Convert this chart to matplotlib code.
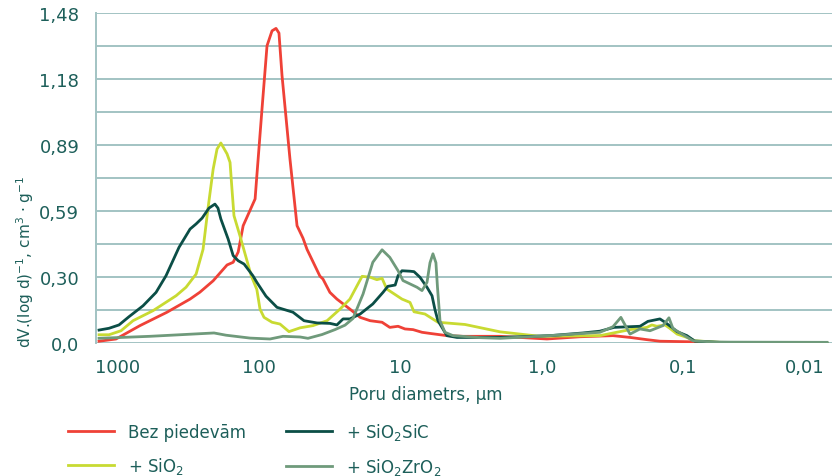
import numpy as np
import matplotlib
matplotlib.use("Agg")
import matplotlib.pyplot as plt

# pore diameter (um) and dV/(log d) for each sample
d_bez = [1363, 1033, 699, 450, 309, 263, 212, 169, 153, 141, 130, 107, 104, 95.6, 88.1,
         81.2, 76.1, 72.5, 69.0, 60.6, 54.0, 49.0, 45.9, 43.7, 37.2, 35.4, 31.6, 28.2,
         22.8, 19.3, 16.4, 13.5, 11.9, 10.4, 9.29, 8.15, 7.04, 6.18, 4.69, 3.61, 1.97,
         0.918, 0.536, 0.313, 0.237, 0.180, 0.1455, 0.0796]
v_bez = [0.008, 0.018, 0.078, 0.138, 0.197, 0.228, 0.279, 0.35, 0.362, 0.408, 0.526, 0.646,
         0.75, 1.05, 1.333, 1.40, 1.411, 1.39, 1.2, 0.825, 0.526, 0.47, 0.42, 0.392, 0.30,
         0.287, 0.227, 0.197, 0.152, 0.115, 0.10, 0.093, 0.07, 0.075, 0.063, 0.06, 0.048,
         0.043, 0.033, 0.03, 0.03, 0.018, 0.028, 0.033, 0.025, 0.015, 0.008, 0.005]

d_sio2 = [1363, 1158, 952, 783, 565, 388, 330, 280, 250, 231, 212, 199, 187, 169, 161, 156,
          151, 137, 114, 104, 98.8, 92.5, 81.2, 71.3, 61.6, 51.4, 41.6, 33.1, 26.8, 22.8,
          20.3, 18.7, 16.4, 14.7, 13.5, 12.5, 10.6, 9.76, 8.56, 8.02, 6.71, 5.43, 3.49,
          1.97, 1.03, 0.387, 0.237, 0.180, 0.166, 0.153, 0.134, 0.124, 0.110, 0.0937,
          0.0822, 0.0547, 0.00956]
v_sio2 = [0.037, 0.037, 0.055, 0.10, 0.145, 0.212, 0.25, 0.309, 0.42, 0.60, 0.78, 0.87,
          0.897, 0.848, 0.81, 0.69, 0.571, 0.481, 0.302, 0.24, 0.152, 0.115, 0.093, 0.085,
          0.051, 0.068, 0.078, 0.10, 0.152, 0.197, 0.257, 0.299, 0.295, 0.284, 0.29, 0.242,
          0.212, 0.197, 0.182, 0.14, 0.13, 0.093, 0.083, 0.05, 0.03, 0.033, 0.06, 0.07,
          0.081, 0.075, 0.081, 0.066, 0.04, 0.025, 0.01, 0.003, 0.0]

d_sic = [1363, 1158, 984, 836, 665, 538, 457, 370, 309, 280, 254, 227, 206, 196, 187, 166,
         153, 141, 128, 111, 104, 89.6, 74.9, 57.7, 48.2, 39.0, 31.6, 28.2, 25.5, 22.8,
         19.3, 15.7, 13.3, 12.3, 10.9, 10.4, 9.76, 8.56, 8.02, 7.28, 6.49, 5.98, 5.70,
         5.43, 4.69, 3.98, 1.97, 0.874, 0.511, 0.387, 0.308, 0.2015, 0.177, 0.1455,
         0.134, 0.1197, 0.110, 0.0937, 0.0822, 0.0547, 0.00956]
v_sic = [0.058, 0.066, 0.081, 0.118, 0.167, 0.227, 0.302, 0.429, 0.511, 0.534, 0.56, 0.605,
         0.623, 0.605, 0.556, 0.466, 0.392, 0.369, 0.354, 0.302, 0.272, 0.21, 0.16, 0.138,
         0.10, 0.09, 0.088, 0.081, 0.108, 0.108, 0.13, 0.175, 0.227, 0.254, 0.26, 0.302,
         0.324, 0.322, 0.32, 0.295, 0.25, 0.212, 0.15, 0.10, 0.033, 0.025, 0.025, 0.033,
         0.045, 0.053, 0.07, 0.075, 0.097, 0.108, 0.093, 0.07, 0.051, 0.033, 0.008,
         0.003, 0.0]

d_zro2 = [1363, 594, 209, 172, 116, 83.9, 67.9, 51.4, 45.2, 35.9, 29.1, 24.7, 21.7, 18.4,
          15.7, 13.5, 11.9, 10.4, 9.60, 8.56, 7.64, 7.04, 6.49, 6.18, 5.89, 5.61, 5.47,
          5.25, 4.84, 4.25, 2.74, 1.97, 0.874, 0.387, 0.313, 0.275, 0.237, 0.2015, 0.171,
          0.1385, 0.1256, 0.1177, 0.1016, 0.0849, 0.0594, 0.00956]
v_zro2 = [0.021, 0.03, 0.045, 0.035, 0.022, 0.018, 0.03, 0.027, 0.021, 0.038, 0.06, 0.08,
          0.11, 0.22, 0.362, 0.418, 0.384, 0.324, 0.28, 0.265, 0.25, 0.235, 0.272, 0.36,
          0.40, 0.36, 0.25, 0.10, 0.048, 0.033, 0.024, 0.021, 0.033, 0.048, 0.073, 0.115,
          0.04, 0.063, 0.055, 0.078, 0.113, 0.065, 0.04, 0.01, 0.004, 0.003]

labels = ["Bez piedevām", "+ SiO$_2$", "+ SiO$_2$SiC", "+ SiO$_2$ZrO$_2$"]
colors = ["#ef4137", "#c8da32", "#0b4e46", "#6f9a7b"]

x_ticks = [1000, 100, 10, 1, 0.1, 0.01]
x_ticklabels = ["1000", "100", "10", "1,0", "0,1", "0,01"]
y_ticks = [0.0, 0.296, 0.592, 0.888, 1.184, 1.48]
y_ticklabels = ["0,0", "0,30", "0,59", "0,89", "1,18", "1,48"]

txt = "#1d5f5a"
grid = "#a2c3c3"

fig = plt.figure(figsize=(8.32, 4.77), dpi=100)
ax = fig.add_axes([96/832, 133/477, 736/832, 330/477])

series = [(d_bez, v_bez), (d_sio2, v_sio2), (d_sic, v_sic), (d_zro2, v_zro2)]
for (d, v), lab, c in zip(series, labels, colors):
    ax.plot(d, v, color=c, lw=2.0, label=lab, solid_joinstyle="round")

ax.set_xscale("log")
ax.set_xlim(1432, 0.0088)
ax.set_ylim(0, 1.48)
ax.set_xticks(x_ticks)
ax.set_xticklabels(x_ticklabels)
ax.xaxis.set_minor_locator(matplotlib.ticker.NullLocator())
ax.get_xticklabels()[-1].set_horizontalalignment("right")
ax.set_yticks(y_ticks)
ax.set_yticklabels(y_ticklabels)
for yy in np.arange(11) * 0.148:
    ax.axhline(yy, color=grid, lw=1.4, zorder=0)
ax.tick_params(length=0, labelsize=13, colors=txt)
ax.tick_params(axis="x", pad=11)
ax.tick_params(axis="y", pad=12)
for s in ["top", "right", "bottom"]:
    ax.spines[s].set_visible(False)
ax.spines["left"].set_color(grid)
ax.spines["left"].set_linewidth(1.4)

fig.text(426/832, 1 - 395/477, "Poru diametrs, µm", color=txt, fontsize=12,
         ha="center", va="center")
fig.text(25/832, 1 - 262/477, "dV.(log d)$^{-1}$, cm$^3$ · g$^{-1}$", color=txt,
         fontsize=11, rotation=90, ha="center", va="center")

leg = fig.legend(loc="upper left", bbox_to_anchor=(61/832, 1 - 415/477), ncol=2,
                 frameon=False, fontsize=12, handlelength=2.8, handletextpad=0.8,
                 columnspacing=2.4, labelspacing=0.85, borderaxespad=0)
for t in leg.get_texts():
    t.set_color(txt)

fig.savefig("out.png", dpi=100)
